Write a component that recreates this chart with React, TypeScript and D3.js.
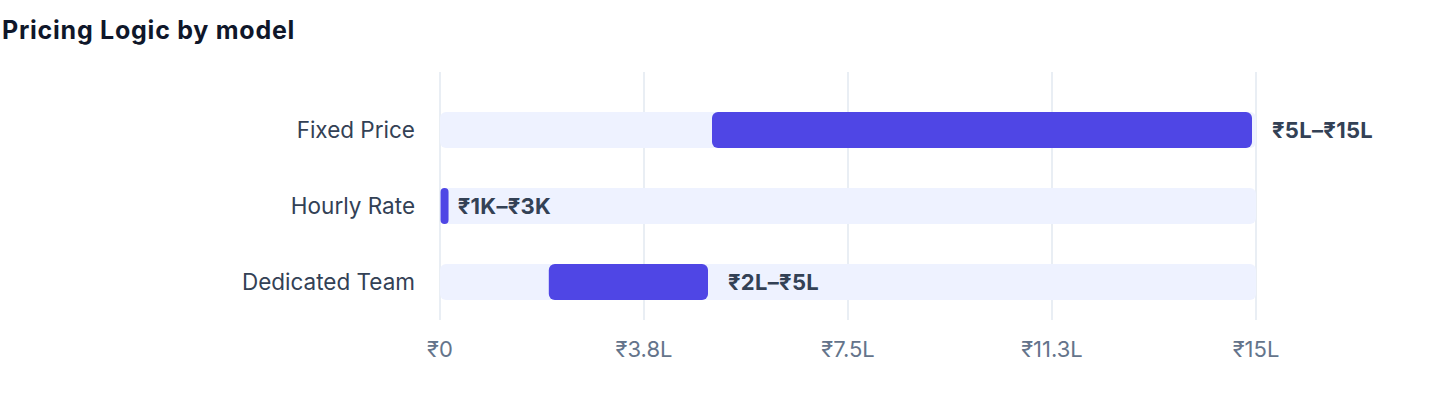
import { useEffect, useRef } from 'react';
import * as d3 from 'd3';

// Pricing ranges per engagement model, in lakhs of rupees
const models = ['Fixed Price', 'Hourly Rate', 'Dedicated Team'];
const rangeStart = [5, 0.01, 2];
const rangeEnd = [15, 0.03, 5];
const rangeLabels = ['₹5L–₹15L', '₹1K–₹3K', '₹2L–₹5L'];

const xTicks = [0, 3.75, 7.5, 11.25, 15];
const xTickLabels = ['₹0', '₹3.8L', '₹7.5L', '₹11.3L', '₹15L'];

const TITLE = 'Pricing Logic by model';

const WIDTH = 1440;
const HEIGHT = 408;
const PLOT = { left: 440, right: 1256, top: 72, bottom: 320 };
const FONT = 'Inter, "Noto Sans", "DejaVu Sans", sans-serif';

const BAR_BG = '#eef2ff';
const BAR_FG = '#4f46e5';
const MIN_BAR = 8;

export default function App() {
  const svgRef = useRef<SVGSVGElement>(null);

  useEffect(() => {
    if (!svgRef.current) return;
    const svg = d3.select(svgRef.current);
    svg.selectAll('*').remove();

    const x = d3.scaleLinear().domain([0, 15]).range([PLOT.left, PLOT.right]);
    const y = d3
      .scaleBand()
      .domain(models)
      .range([92, PLOT.bottom])
      .paddingInner(0.526)
      .paddingOuter(0.263);
    const bw = y.bandwidth();

    // Title
    svg
      .append('text')
      .attr('x', 2)
      .attr('y', 39)
      .attr('font-size', '25px')
      .attr('font-weight', 700)
      .attr('letter-spacing', '0.75px')
      .attr('fill', '#0f172a')
      .text(TITLE);

    // Vertical grid lines
    svg
      .append('g')
      .selectAll('line')
      .data(xTicks)
      .enter()
      .append('line')
      .attr('x1', (d: number) => x(d))
      .attr('x2', (d: number) => x(d))
      .attr('y1', PLOT.top)
      .attr('y2', PLOT.bottom)
      .attr('stroke', '#e2e8f0')
      .attr('stroke-width', 1.5);

    // Tick labels
    svg
      .append('g')
      .selectAll('text')
      .data(xTicks)
      .enter()
      .append('text')
      .attr('x', (d: number) => x(d))
      .attr('y', 357)
      .attr('text-anchor', 'middle')
      .attr('font-size', '22px')
      .attr('fill', '#64748b')
      .text((_d: number, i: number) => xTickLabels[i]);

    models.forEach((m, i) => {
      const top = y(m) ?? 0;
      const cy = top + bw / 2;

      // Track
      svg
        .append('rect')
        .attr('x', x(0))
        .attr('y', top)
        .attr('width', x(15) - x(0))
        .attr('height', bw)
        .attr('rx', 6)
        .attr('fill', BAR_BG);

      // Range bar
      const x0 = x(rangeStart[i]);
      const w = Math.max(MIN_BAR, x(rangeEnd[i]) - x0 - 4);
      svg
        .append('rect')
        .attr('x', x0)
        .attr('y', top)
        .attr('width', w)
        .attr('height', bw)
        .attr('rx', Math.min(6, w / 2))
        .attr('fill', BAR_FG);

      // Category label
      svg
        .append('text')
        .attr('x', 415)
        .attr('y', cy + 8)
        .attr('text-anchor', 'end')
        .attr('font-size', '22.5px')
        .attr('fill', '#334155')
        .text(m);

      // Value label
      svg
        .append('text')
        .attr('x', x(rangeEnd[i]) + 16)
        .attr('y', cy + 8)
        .attr('font-size', '22px')
        .attr('font-weight', 700)
        .attr('letter-spacing', '0.3px')
        .attr('fill', '#334155')
        .text(rangeLabels[i]);
    });
  }, []);

  return (
    <svg
      ref={svgRef}
      width={WIDTH}
      height={HEIGHT}
      style={{
        position: 'fixed',
        left: 0,
        top: 0,
        background: '#ffffff',
        fontFamily: FONT,
        display: 'block',
      }}
    />
  );
}
